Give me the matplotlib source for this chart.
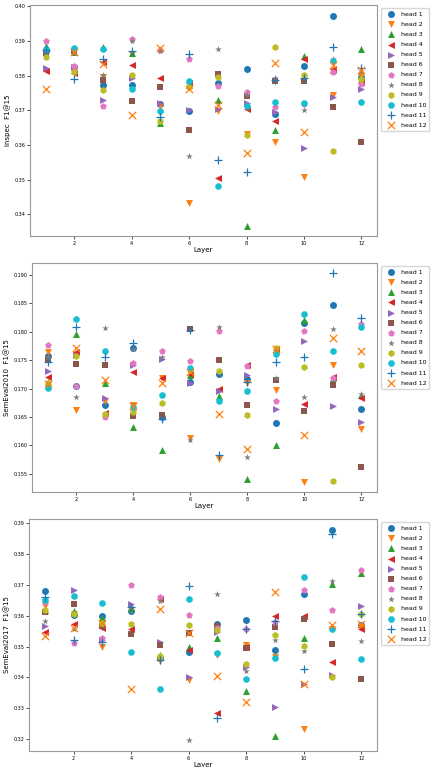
import numpy as np
import matplotlib
matplotlib.use("Agg")
import matplotlib.pyplot as plt

layers = list(range(1, 13))
heads = ["head %d" % i for i in range(1, 13)]
markers = ['o', 'v', '^', '<', '>', 's', 'p', '*', 'h', '8', '+', 'x']

# F1@15 per head, one value per layer (1..12)
inspec = [
    [0.3870, 0.3826, 0.3773, 0.3772, 0.3719, 0.3699, 0.3778, 0.3820, 0.3690, 0.3828, 0.3973, 0.3797],
    [0.3868, 0.3815, 0.3795, 0.3861, 0.3712, 0.3434, 0.3698, 0.3632, 0.3610, 0.3508, 0.3743, 0.3800],
    [0.3885, 0.3868, 0.3883, 0.3865, 0.3664, 0.3773, 0.3730, 0.3368, 0.3644, 0.3855, 0.3815, 0.3876],
    [0.3814, 0.3806, 0.3840, 0.3830, 0.3792, 0.3779, 0.3504, 0.3704, 0.3670, 0.3848, 0.3818, 0.3782],
    [0.3822, 0.3826, 0.3730, 0.3792, 0.3720, 0.3701, 0.3705, 0.3721, 0.3695, 0.3591, 0.3738, 0.3761],
    [0.3865, 0.3870, 0.3788, 0.3727, 0.3766, 0.3644, 0.3804, 0.3740, 0.3784, 0.3784, 0.3710, 0.3608],
    [0.3900, 0.3828, 0.3711, 0.3905, 0.3873, 0.3849, 0.3770, 0.3752, 0.3708, 0.3718, 0.3810, 0.3776],
    [0.3863, 0.3866, 0.3802, 0.3900, 0.3871, 0.3567, 0.3876, 0.3745, 0.3794, 0.3700, 0.3849, 0.3813],
    [0.3854, 0.3811, 0.3757, 0.3803, 0.3668, 0.3768, 0.3795, 0.3629, 0.3883, 0.3803, 0.3582, 0.3790],
    [0.3876, 0.3878, 0.3876, 0.3760, 0.3697, 0.3785, 0.3483, 0.3713, 0.3723, 0.3722, 0.3841, 0.3724],
    [0.3874, 0.3790, 0.3848, 0.3872, 0.3680, 0.3861, 0.3556, 0.3523, 0.3787, 0.3792, 0.3881, 0.3821],
    [0.3760, 0.3868, 0.3834, 0.3686, 0.3878, 0.3762, 0.3715, 0.3577, 0.3835, 0.3636, 0.3830, 0.3816],
]

semeval2010 = [
    [0.1758, 0.1705, 0.1671, 0.1772, 0.1650, 0.1711, 0.1725, 0.1716, 0.1640, 0.1816, 0.1847, 0.1664],
    [0.1764, 0.1662, 0.1678, 0.1671, 0.1719, 0.1612, 0.1576, 0.1709, 0.1698, 0.1536, 0.1741, 0.1629],
    [0.1712, 0.1796, 0.1709, 0.1632, 0.1592, 0.1724, 0.1687, 0.1541, 0.1600, 0.1821, 0.1718, 0.1688],
    [0.1720, 0.1765, 0.1657, 0.1729, 0.1718, 0.1725, 0.1700, 0.1742, 0.1768, 0.1672, 0.1720, 0.1684],
    [0.1731, 0.1760, 0.1683, 0.1741, 0.1752, 0.1710, 0.1695, 0.1724, 0.1664, 0.1784, 0.1669, 0.1641],
    [0.1752, 0.1744, 0.1742, 0.1651, 0.1654, 0.1805, 0.1751, 0.1671, 0.1715, 0.1661, 0.1706, 0.1561],
    [0.1776, 0.1705, 0.1649, 0.1745, 0.1767, 0.1749, 0.1801, 0.1739, 0.1678, 0.1801, 0.1719, 0.1814],
    [0.1755, 0.1685, 0.1807, 0.1769, 0.1756, 0.1609, 0.1809, 0.1579, 0.1719, 0.1686, 0.1805, 0.1690],
    [0.1710, 0.1757, 0.1655, 0.1659, 0.1675, 0.1732, 0.1731, 0.1654, 0.1771, 0.1738, 0.1537, 0.1742],
    [0.1701, 0.1822, 0.1767, 0.1668, 0.1688, 0.1736, 0.1678, 0.1696, 0.1761, 0.1831, 0.1766, 0.1809],
    [0.1747, 0.1809, 0.1756, 0.1781, 0.1647, 0.1803, 0.1582, 0.1712, 0.1747, 0.1756, 0.1903, 0.1825],
    [0.1708, 0.1772, 0.1715, 0.1669, 0.1710, 0.1729, 0.1656, 0.1594, 0.1770, 0.1618, 0.1789, 0.1766],
]

semeval2017 = [
    [0.3681, 0.3601, 0.3598, 0.3615, 0.3463, 0.3482, 0.3572, 0.3585, 0.3490, 0.3671, 0.3880, 0.3571],
    [0.3631, 0.3607, 0.3499, 0.3618, 0.3452, 0.3390, 0.3471, 0.3506, 0.3466, 0.3233, 0.3556, 0.3565],
    [0.3620, 0.3614, 0.3594, 0.3625, 0.3473, 0.3498, 0.3529, 0.3354, 0.3211, 0.3529, 0.3702, 0.3739],
    [0.3547, 0.3573, 0.3560, 0.3558, 0.3653, 0.3488, 0.3285, 0.3500, 0.3600, 0.3598, 0.3450, 0.3558],
    [0.3566, 0.3683, 0.3520, 0.3637, 0.3515, 0.3401, 0.3547, 0.3433, 0.3305, 0.3378, 0.3406, 0.3631],
    [0.3613, 0.3637, 0.3567, 0.3540, 0.3506, 0.3544, 0.3568, 0.3495, 0.3564, 0.3588, 0.3509, 0.3395],
    [0.3645, 0.3511, 0.3528, 0.3700, 0.3661, 0.3604, 0.3560, 0.3556, 0.3580, 0.3683, 0.3619, 0.3748],
    [0.3584, 0.3556, 0.3570, 0.3630, 0.3647, 0.3195, 0.3672, 0.3419, 0.3520, 0.3485, 0.3712, 0.3517],
    [0.3618, 0.3606, 0.3577, 0.3572, 0.3468, 0.3571, 0.3553, 0.3444, 0.3536, 0.3502, 0.3401, 0.3605],
    [0.3650, 0.3663, 0.3642, 0.3482, 0.3363, 0.3656, 0.3479, 0.3395, 0.3463, 0.3726, 0.3558, 0.3460],
    [0.3660, 0.3522, 0.3515, 0.3628, 0.3457, 0.3696, 0.3267, 0.3558, 0.3582, 0.3426, 0.3866, 0.3605],
    [0.3533, 0.3560, 0.3578, 0.3361, 0.3621, 0.3544, 0.3403, 0.3319, 0.3678, 0.3377, 0.3569, 0.3574],
]

datasets = [("Inspec  F1@15", inspec), ("SemEval2010  F1@15", semeval2010), ("SemEval2017  F1@15", semeval2017)]

W, H = 437.0, 767.0
# left, top, right, bottom in pixels
boxes = [(30, 5, 377, 236), (32, 263, 377, 492), (29, 519, 377, 751)]

fig = plt.figure(figsize=(W / 100, H / 100), dpi=100)
for (ylab, data), (l, t, r, b) in zip(datasets, boxes):
    ax = fig.add_axes([l / W, (H - b) / H, (r - l) / W, (b - t) / H])
    for i in range(12):
        if markers[i] in ('+', 'x'):
            ax.scatter(layers, data[i], marker=markers[i], s=28, linewidths=0.9, label=heads[i])
        else:
            ax.scatter(layers, data[i], marker=markers[i], s=25, linewidths=0, label=heads[i])
    ax.set_xticks([2, 4, 6, 8, 10, 12])
    ax.tick_params(labelsize=3.5, length=2, width=0.5, pad=1.5)
    ax.set_xlabel("Layer", fontsize=5, labelpad=1)
    ax.set_ylabel(ylab, fontsize=5, labelpad=2)
    for sp in ax.spines.values():
        sp.set_linewidth(0.8)
        sp.set_color('#999999')
    ax.legend(loc='upper left', bbox_to_anchor=(1.012, 0.985), fontsize=4.5,
              borderaxespad=0, handletextpad=0.6, labelspacing=0.75, borderpad=0.5)

plt.savefig("out.png", dpi=100)
